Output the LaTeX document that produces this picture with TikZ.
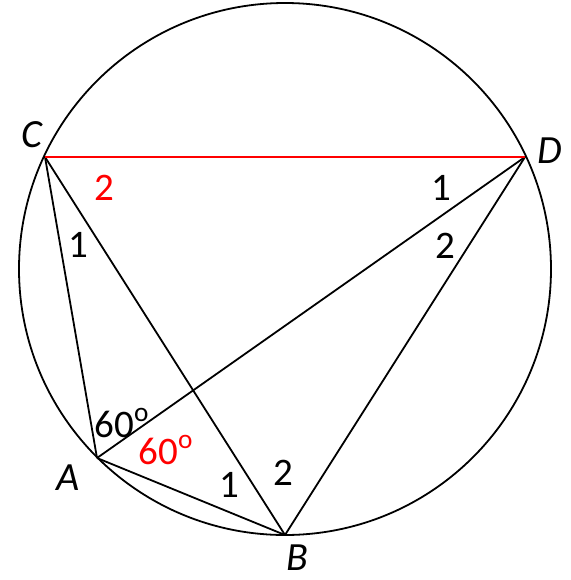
\documentclass[tikz,border=0pt]{standalone}
\usepackage{fontspec}
\setmainfont{Carlito}
\begin{document}
\begin{tikzpicture}[x=0.5pt,y=-0.5pt,
  seg/.style={line width=0.9pt,black},
  redseg/.style={line width=1.3pt,red},
  ptlabel/.style={font=\fontsize{20}{20}\selectfont\itshape,inner sep=0pt},
  numlabel/.style={font=\fontsize{19.5}{19.5}\selectfont,inner sep=0pt},
  rednum/.style={numlabel,text=red}]
\useasboundingbox (0,0) rectangle (571,580);
\coordinate (O) at (285,269);
\coordinate (C) at (45,157);
\coordinate (D) at (525,157);
\coordinate (A) at (97,458);
\coordinate (B) at (285,535);
\draw[seg] (O) circle[radius=266];
\draw[seg] (C) -- (A);
\draw[seg] (C) -- (B);
\draw[seg] (A) -- (D);
\draw[seg] (A) -- (B);
\draw[seg] (B) -- (D);
\draw[redseg] (C) -- (D);
\node[ptlabel] (lC) at (32,135) {C};
\node[ptlabel] (lD) at (550,151) {D};
\node[ptlabel] (lA) at (68,478) {A};
\node[ptlabel] (lB) at (297,558) {B};
\node[rednum] (n1) at (104,188) {2};
\node[numlabel] (n2) at (78,245) {1};
\node[numlabel] (n3) at (441,188) {1};
\node[numlabel] (n4) at (445,246) {2};
\node[numlabel] (n5) at (122,423) {60\textsuperscript{o}};
\node[rednum] (n6) at (166,450) {60\textsuperscript{o}};
\node[numlabel] (n7) at (229,485) {1};
\node[numlabel] (n8) at (283,473) {2};
\end{tikzpicture}
\end{document}
